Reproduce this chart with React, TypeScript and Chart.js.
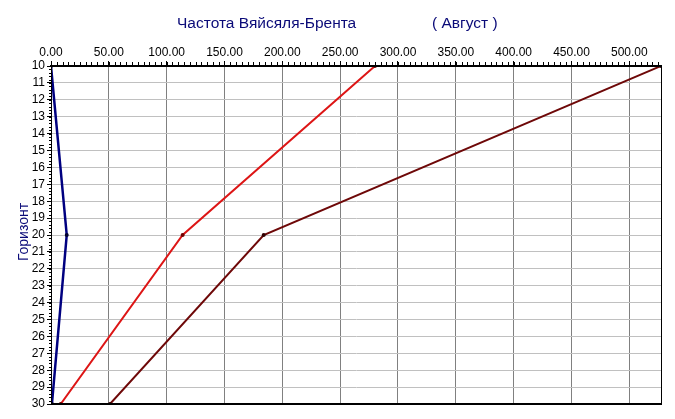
import { useEffect, useRef } from "react";
import { Chart, registerables } from "chart.js";

Chart.register(...registerables);

const horizons = [10, 20, 30];
const seriesBlue = [0, 13.6, 0.8];
const seriesRed = [280.1, 113.8, 8.4];
const seriesDark = [527.4, 183.9, 51.0];
const xMax = 527.4;
const xTickValues = [0, 50, 100, 150, 200, 250, 300, 350, 400, 450, 500];
const yMin = 10;
const yMax = 30;
const titleMain = "Частота Вяйсяля-Брента";
const titleMonth = "( Август )";
const yAxisTitle = "Горизонт";

const FONT = "'Liberation Sans', Arial, sans-serif";
const NAVY = "#0a0a78";

const toPoints = (vals: number[]) => vals.map((v, i) => ({ x: v, y: horizons[i] }));

const decorPlugin = {
  id: "decor",
  afterDraw(chart: any) {
    const ctx = chart.ctx as CanvasRenderingContext2D;
    const area = chart.chartArea;
    const xs = chart.scales.x;
    const ys = chart.scales.y;
    ctx.save();
    ctx.strokeStyle = "#000";
    ctx.lineWidth = 1;
    ctx.beginPath();
    for (let v = 0; v <= xMax + 0.001; v += 5) {
      const px = Math.round(xs.getPixelForValue(v)) + 0.5;
      ctx.moveTo(px, area.top);
      ctx.lineTo(px, area.top - 4);
    }
    for (let v = yMin; v <= yMax + 0.001; v += 0.2) {
      const py = Math.round(ys.getPixelForValue(v)) + 0.5;
      ctx.moveTo(area.left, py);
      ctx.lineTo(area.left - 2, py);
    }
    ctx.stroke();
    ctx.lineWidth = 1;
    ctx.strokeRect(Math.round(area.left) + 0.5, Math.round(area.top) + 0.5, Math.round(area.right - area.left), Math.round(area.bottom - area.top));
    ctx.lineWidth = 2;
    ctx.beginPath();
    ctx.moveTo(area.left, area.top);
    ctx.lineTo(area.right, area.top);
    ctx.moveTo(area.left, area.bottom);
    ctx.lineTo(area.right + 1, area.bottom);
    ctx.stroke();
    ctx.fillStyle = NAVY;
    ctx.font = `15.5px ${FONT}`;
    ctx.textAlign = "left";
    ctx.textBaseline = "alphabetic";
    ctx.fillText(titleMain, 177, 28);
    ctx.fillText(titleMonth, 432, 28);
    ctx.font = `14px ${FONT}`;
    ctx.translate(28, 232);
    ctx.rotate(-Math.PI / 2);
    ctx.textAlign = "center";
    ctx.fillText(yAxisTitle, 0, 0);
    ctx.restore();
  },
};

export default function App() {
  const ref = useRef<HTMLCanvasElement>(null);
  useEffect(() => {
    document.body.style.margin = "0";
    const canvas = ref.current!;
    const chart = new Chart(canvas, {
      type: "line",
      data: {
        datasets: [
          {
            data: toPoints(seriesBlue),
            borderColor: "#000080",
            borderWidth: 2.5,
            pointRadius: 2,
            pointBackgroundColor: "#000030",
            pointBorderColor: "#000030",
            pointBorderWidth: 0,
            tension: 0,
          },
          {
            data: toPoints(seriesRed),
            borderColor: "#dd1515",
            borderWidth: 2,
            pointRadius: 2,
            pointBackgroundColor: "#700000",
            pointBorderColor: "#700000",
            pointBorderWidth: 0,
            tension: 0,
          },
          {
            data: toPoints(seriesDark),
            borderColor: "#6e0808",
            borderWidth: 2,
            pointRadius: 2,
            pointBackgroundColor: "#300000",
            pointBorderColor: "#300000",
            pointBorderWidth: 0,
            tension: 0,
          },
        ],
      },
      options: {
        animation: false,
        responsive: false,
        devicePixelRatio: 1,
        layout: { padding: { top: 0, right: 14, bottom: 15, left: 0 } },
        plugins: { legend: { display: false }, title: { display: false }, tooltip: { enabled: false } },
        scales: {
          x: {
            type: "linear",
            position: "top",
            min: 0,
            max: xMax,
            afterBuildTicks: (s: any) => {
              s.ticks = xTickValues.map((v) => ({ value: v }));
            },
            afterFit: (s: any) => {
              s.height = 66;
            },
            ticks: {
              color: "#000",
              font: { family: FONT, size: 12 },
              padding: 1,
              maxRotation: 0,
              autoSkip: false,
              callback: (v: any) => Number(v).toFixed(2),
            },
            grid: { color: "#808080", lineWidth: 1, tickColor: "#000", tickLength: 5 },
            border: { color: "#000", width: 2 },
          },
          y: {
            type: "linear",
            position: "left",
            reverse: true,
            min: yMin,
            max: yMax,
            afterFit: (s: any) => {
              s.width = 51;
            },
            ticks: {
              stepSize: 1,
              color: "#000",
              font: { family: FONT, size: 12 },
              padding: 2,
              autoSkip: false,
            },
            grid: { color: "#c0c0c0", lineWidth: 1, tickColor: "#000", tickLength: 4 },
            border: { color: "#000", width: 1 },
          },
        },
      },
      plugins: [decorPlugin],
    });
    return () => chart.destroy();
  }, []);
  return (
    <div style={{ width: 675, height: 419, background: "#fff" }}>
      <canvas ref={ref} width={675} height={419} style={{ display: "block" }} />
    </div>
  );
}
